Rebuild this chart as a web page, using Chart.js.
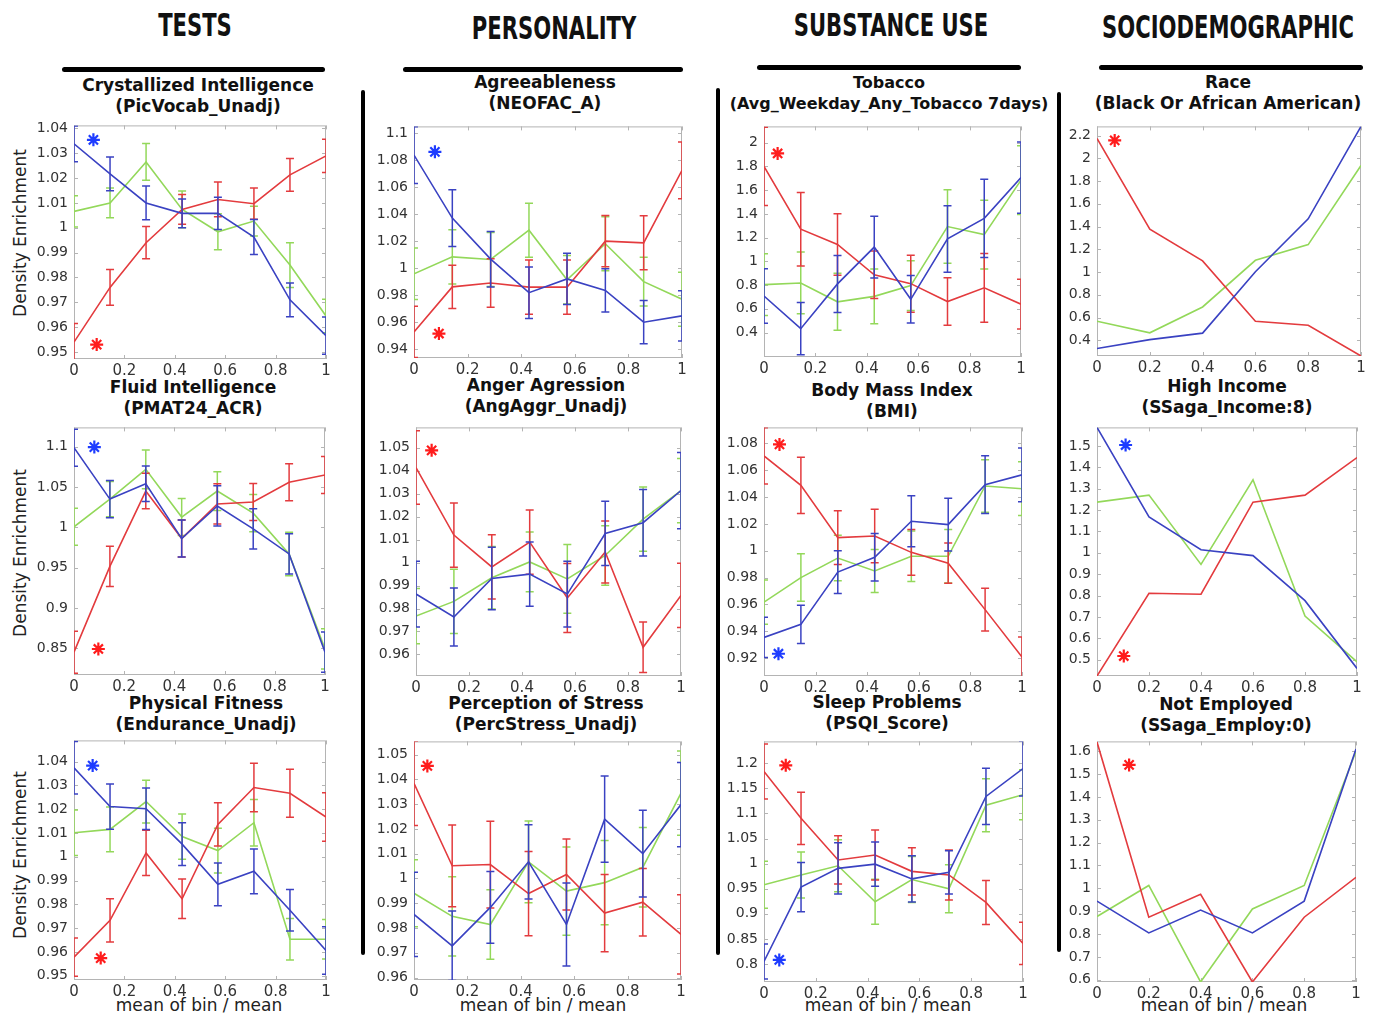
<!DOCTYPE html>
<html>
<head>
<meta charset="utf-8">
<script src="https://cdn.jsdelivr.net/npm/chart.js@4.4.1/dist/chart.umd.min.js"></script>
<style>
body { margin: 0; background: #fff; font-family: "DejaVu Sans", sans-serif; }
#page { position: relative; width: 1377px; height: 1015px; overflow: hidden; background: #fff; }
.hdr { position: absolute; font-weight: bold; font-size: 32px; color: #111; white-space: nowrap;
       transform: translate(-50%, -50%) scaleX(0.66); }
.bar { position: absolute; background: #000; border-radius: 3px; }
.ttl { position: absolute; font-weight: bold; font-size: 17px; line-height: 21px; color: #111;
       white-space: nowrap; text-align: center; transform: translate(-50%, -50%); }
.ylab { position: absolute; font-size: 17px; color: #222; white-space: nowrap;
        transform: translate(-50%, -50%) rotate(-90deg); }
.xlab { position: absolute; font-size: 17px; color: #222; white-space: nowrap;
        transform: translate(-50%, -50%); }
canvas { position: absolute; }
</style>
</head>
<body>
<div id="page"></div>
<script>
// x positions of the bins (8 bins for the first three columns, 6 for the last)
const binsEight = [0, 0.143, 0.286, 0.429, 0.571, 0.714, 0.857, 1];
const binsSix = [0, 0.2, 0.4, 0.6, 0.8, 1];
const xTicks = [0, 0.2, 0.4, 0.6, 0.8, 1];

// Crystallized Intelligence (PicVocab_Unadj)
const picVocabRed = [0.954, 0.976, 0.994, 1.0074, 1.0114, 1.0097, 1.0213, 1.0289];
const picVocabRedErr = [0.0075, 0.0072, 0.0065, 0.006, 0.007, 0.0063, 0.0066, 0.0067];
const picVocabGreen = [1.0066, 1.010, 1.0265, 1.0074, 0.9984, 1.0027, 0.985, 0.9645];
const picVocabGreenErr = [0.0063, 0.006, 0.0074, 0.0074, 0.0072, 0.006, 0.009, 0.0067];
const picVocabBlue = [1.0338, 1.0217, 1.010, 1.0058, 1.0058, 0.9963, 0.971, 0.9566];
const picVocabBlueErr = [0.0072, 0.0068, 0.0068, 0.0058, 0.0065, 0.007, 0.0068, 0.0075];
const picVocabTicks = [0.95, 0.96, 0.97, 0.98, 0.99, 1, 1.01, 1.02, 1.03, 1.04];
const picVocabStars = { red: [0.09, 0.953], blue: [0.077, 1.0354] };

// Agreeableness (NEOFAC_A)
const neofacRed = [0.9528, 0.9861, 0.989, 0.9859, 0.9859, 1.0199, 1.0187, 1.0723];
const neofacRedErr = [0.019, 0.016, 0.018, 0.02, 0.02, 0.019, 0.02, 0.021];
const neofacGreen = [0.9958, 1.0083, 1.0064, 1.028, 0.9914, 1.018, 0.990, 0.977];
const neofacGreenErr = [0.019, 0.02, 0.02, 0.02, 0.018, 0.02, 0.018, 0.02];
const neofacBlue = [1.0836, 1.037, 1.0066, 0.9818, 0.992, 0.9835, 0.960, 0.9647];
const neofacBlueErr = [0.021, 0.021, 0.0205, 0.019, 0.019, 0.016, 0.016, 0.0186];
const neofacTicks = [0.94, 0.96, 0.98, 1, 1.02, 1.04, 1.06, 1.08, 1.1];
const neofacStars = { red: [0.093, 0.9516], blue: [0.078, 1.086] };

// Tobacco (Avg_Weekday_Any_Tobacco 7days)
const tobaccoRed = [1.80, 1.271, 1.142, 0.887, 0.812, 0.661, 0.777, 0.639];
const tobaccoRedErr = [0.33, 0.31, 0.26, 0.2, 0.24, 0.2, 0.29, 0.21];
const tobaccoGreen = [0.804, 0.818, 0.659, 0.705, 0.796, 1.293, 1.225, 1.684];
const tobaccoGreenErr = [0.26, 0.26, 0.24, 0.23, 0.21, 0.31, 0.29, 0.29];
const tobaccoBlue = [0.708, 0.433, 0.81, 1.12, 0.68, 1.189, 1.362, 1.706];
const tobaccoBlueErr = [0.23, 0.22, 0.24, 0.26, 0.2, 0.28, 0.33, 0.30];
const tobaccoTicks = [0.4, 0.6, 0.8, 1, 1.2, 1.4, 1.6, 1.8, 2];
const tobaccoStars = { red: [0.053, 1.909] };

// Race (Black Or African American)
const raceRed = [2.174, 1.376, 1.098, 0.567, 0.532, 0.262];
const raceGreen = [0.567, 0.466, 0.693, 1.103, 1.241, 1.936];
const raceBlue = [0.328, 0.406, 0.463, 1.003, 1.468, 2.28];
const raceTicks = [0.4, 0.6, 0.8, 1, 1.2, 1.4, 1.6, 1.8, 2, 2.2];
const raceStars = { red: [0.067, 2.157] };

// Fluid Intelligence (PMAT24_ACR)
const pmatRed = [0.845, 0.9515, 1.045, 0.986, 1.029, 1.0314, 1.056, 1.065];
const pmatRedErr = [0.026, 0.025, 0.022, 0.023, 0.025, 0.023, 0.023, 0.023];
const pmatGreen = [1.0006, 1.035, 1.072, 1.0127, 1.045, 1.0176, 0.967, 0.849];
const pmatGreenErr = [0.023, 0.022, 0.024, 0.023, 0.024, 0.023, 0.027, 0.025];
const pmatBlue = [1.0988, 1.035, 1.054, 0.986, 1.0265, 0.998, 0.967, 0.845];
const pmatBlueErr = [0.023, 0.023, 0.022, 0.023, 0.025, 0.025, 0.025, 0.025];
const pmatTicks = [0.85, 0.9, 0.95, 1, 1.05, 1.1];
const pmatStars = { red: [0.097, 0.849], blue: [0.081, 1.0996] };

// Anger Agression (AngAggr_Unadj)
const angerRed = [1.0414, 1.012, 0.9981, 1.0089, 0.9846, 1.0046, 0.9631, 0.9857];
const angerRedErr = [0.016, 0.014, 0.014, 0.014, 0.015, 0.0135, 0.011, 0.014];
const angerGreen = [0.9767, 0.9831, 0.9934, 1.0003, 0.9929, 1.0031, 1.0189, 1.0314];
const angerGreenErr = [0.012, 0.014, 0.0136, 0.013, 0.015, 0.013, 0.014, 0.014];
const angerBlue = [0.9863, 0.9763, 0.9931, 0.995, 0.9863, 1.0127, 1.0174, 1.0314];
const angerBlueErr = [0.0143, 0.0126, 0.0136, 0.014, 0.0143, 0.014, 0.0145, 0.0166];
const angerTicks = [0.96, 0.97, 0.98, 0.99, 1, 1.01, 1.02, 1.03, 1.04, 1.05];
const angerStars = { red: [0.059, 1.0489] };

// Body Mass Index (BMI)
const bmiRed = [1.0707, 1.0488, 1.0098, 1.011, 0.9988, 0.9907, 0.9561, 0.9207];
const bmiRedErr = [0.021, 0.021, 0.02, 0.02, 0.017, 0.015, 0.016, 0.015];
const bmiGreen = [0.9617, 0.98, 0.9946, 0.9849, 0.9959, 0.9959, 1.0483, 1.0463];
const bmiGreenErr = [0.0165, 0.0177, 0.017, 0.016, 0.0188, 0.02, 0.0195, 0.02];
const bmiBlue = [0.9354, 0.9451, 0.9841, 0.9951, 1.022, 1.0195, 1.0493, 1.0566];
const bmiBlueErr = [0.015, 0.0143, 0.016, 0.0177, 0.019, 0.0197, 0.0215, 0.02];
const bmiTicks = [0.92, 0.94, 0.96, 0.98, 1, 1.02, 1.04, 1.06, 1.08];
const bmiStars = { red: [0.06, 1.0793], blue: [0.056, 0.9232] };

// High Income (SSaga_Income:8)
const incomeRed = [0.4234, 0.8109, 0.8063, 1.237, 1.270, 1.446];
const incomeGreen = [1.237, 1.270, 0.9456, 1.342, 0.7037, 0.4893];
const incomeBlue = [1.587, 1.168, 1.0145, 0.987, 0.776, 0.459];
const incomeTicks = [0.5, 0.6, 0.7, 0.8, 0.9, 1, 1.1, 1.2, 1.3, 1.4, 1.5];
const incomeStars = { red: [0.103, 0.517], blue: [0.11, 1.5046] };

// Physical Fitness (Endurance_Unadj)
const enduranceRed = [0.9578, 0.9733, 1.0016, 0.9823, 1.0136, 1.0291, 1.0267, 1.0167];
const enduranceRedErr = [0.008, 0.0091, 0.0095, 0.0083, 0.0091, 0.0102, 0.0101, 0.0102];
const enduranceGreen = [1.0101, 1.0115, 1.0232, 1.0085, 1.0026, 1.0143, 0.9653, 0.9653];
const enduranceGreenErr = [0.0096, 0.0094, 0.009, 0.0095, 0.0094, 0.0098, 0.0087, 0.0083];
const enduranceBlue = [1.0374, 1.0211, 1.0202, 1.0053, 0.9884, 0.9939, 0.9775, 0.9606];
const enduranceBlueErr = [0.011, 0.0095, 0.0087, 0.009, 0.009, 0.0094, 0.0087, 0.01];
const enduranceTicks = [0.95, 0.96, 0.97, 0.98, 0.99, 1, 1.01, 1.02, 1.03, 1.04];
const enduranceStars = { red: [0.106, 0.9574], blue: [0.074, 1.0383] };

// Perception of Stress (PercStress_Unadj)
const stressRed = [1.0384, 1.0051, 1.0056, 0.9939, 1.0016, 0.986, 0.9904, 0.9774];
const stressRedErr = [0.017, 0.0165, 0.0175, 0.017, 0.0143, 0.0156, 0.0136, 0.016];
const stressGreen = [0.994, 0.9847, 0.9814, 1.0067, 0.9949, 0.9983, 1.0045, 1.0344];
const stressGreenErr = [0.0135, 0.016, 0.014, 0.0165, 0.0178, 0.017, 0.016, 0.017];
const stressBlue = [0.9855, 0.9728, 0.9883, 1.0067, 0.9814, 1.0239, 1.010, 1.0298];
const stressBlueErr = [0.017, 0.014, 0.0145, 0.015, 0.0167, 0.0174, 0.0175, 0.017];
const stressTicks = [0.96, 0.97, 0.98, 0.99, 1, 1.01, 1.02, 1.03, 1.04, 1.05];
const stressStars = { red: [0.05, 1.0454] };

// Sleep Problems (PSQI_Score)
const psqiRed = [1.1837, 1.0903, 1.0074, 1.0172, 0.9846, 0.9774, 0.9226, 0.841];
const psqiRedErr = [0.055, 0.052, 0.048, 0.05, 0.047, 0.05, 0.044, 0.042];
const psqiGreen = [0.9578, 0.9774, 0.9957, 0.9239, 0.9683, 0.95, 1.1164, 1.1373];
const psqiGreenErr = [0.047, 0.046, 0.052, 0.045, 0.046, 0.048, 0.053, 0.05];
const psqiBlue = [0.805, 0.9533, 0.9905, 0.999, 0.9696, 0.9826, 1.134, 1.1896];
const psqiBlueErr = [0.035, 0.049, 0.051, 0.044, 0.046, 0.043, 0.056, 0.055];
const psqiTicks = [0.8, 0.85, 0.9, 0.95, 1, 1.05, 1.1, 1.15, 1.2];
const psqiStars = { red: [0.084, 1.196], blue: [0.059, 0.808] };

// Not Employed (SSaga_Employ:0)
const employRed = [1.640, 0.8736, 0.974, 0.59, 0.8736, 1.0484];
const employGreen = [0.8765, 1.0126, 0.59, 0.9095, 1.0126, 1.6];
const employBlue = [0.944, 0.805, 0.905, 0.805, 0.944, 1.61];
const employTicks = [0.6, 0.7, 0.8, 0.9, 1, 1.1, 1.2, 1.3, 1.4, 1.5, 1.6];
const employStars = { red: [0.124, 1.54] };

// Colours
const redLine = '#e33b3e';
const greenLine = '#93d85a';
const blueLine = '#3a42c2';
const redStar = '#ff1c1c';
const blueStar = '#1e3cff';

// Panel layout: plot box is [left, top, right, bottom] in page pixels
const panels = [
  { t: ['Crystallized Intelligence', '(PicVocab_Unadj)'], tx: 198, ty: 96, box: [74, 121, 326, 359], y: [0.9472, 1.0412],
    bins: binsEight, red: picVocabRed, redErr: picVocabRedErr, green: picVocabGreen, greenErr: picVocabGreenErr,
    blue: picVocabBlue, blueErr: picVocabBlueErr, ticks: picVocabTicks, stars: picVocabStars },
  { t: ['Agreeableness', '(NEOFAC_A)'], tx: 545, ty: 93, box: [414, 122, 682, 358], y: [0.9335, 1.1048],
    bins: binsEight, red: neofacRed, redErr: neofacRedErr, green: neofacGreen, greenErr: neofacGreenErr,
    blue: neofacBlue, blueErr: neofacBlueErr, ticks: neofacTicks, stars: neofacStars },
  { t: ['Tobacco', '(Avg_Weekday_Any_Tobacco 7days)'], tx: 889, ty: 93, fs: 16, box: [764, 122, 1021, 357], y: [0.194, 2.137],
    bins: binsEight, red: tobaccoRed, redErr: tobaccoRedErr, green: tobaccoGreen, greenErr: tobaccoGreenErr,
    blue: tobaccoBlue, blueErr: tobaccoBlueErr, ticks: tobaccoTicks, stars: tobaccoStars },
  { t: ['Race', '(Black Or African American)'], tx: 1228, ty: 93, box: [1097, 122, 1361, 356], y: [0.262, 2.28],
    bins: binsSix, red: raceRed, green: raceGreen, blue: raceBlue, ticks: raceTicks, stars: raceStars },

  { t: ['Fluid Intelligence', '(PMAT24_ACR)'], tx: 193, ty: 398, box: [74, 423, 325, 675], y: [0.8167, 1.124],
    bins: binsEight, red: pmatRed, redErr: pmatRedErr, green: pmatGreen, greenErr: pmatGreenErr,
    blue: pmatBlue, blueErr: pmatBlueErr, ticks: pmatTicks, stars: pmatStars },
  { t: ['Anger Agression', '(AngAggr_Unadj)'], tx: 546, ty: 396, box: [416, 423, 681, 676], y: [0.9506, 1.0589],
    bins: binsEight, red: angerRed, redErr: angerRedErr, green: angerGreen, greenErr: angerGreenErr,
    blue: angerBlue, blueErr: angerBlueErr, ticks: angerTicks, stars: angerStars },
  { t: ['Body Mass Index', '(BMI)'], tx: 892, ty: 401, box: [764, 423, 1022, 676], y: [0.9066, 1.092],
    bins: binsEight, red: bmiRed, redErr: bmiRedErr, green: bmiGreen, greenErr: bmiGreenErr,
    blue: bmiBlue, blueErr: bmiBlueErr, ticks: bmiTicks, stars: bmiStars },
  { t: ['High Income', '(SSaga_Income:8)'], tx: 1227, ty: 397, box: [1097, 423, 1357, 676], y: [0.4234, 1.587],
    bins: binsSix, red: incomeRed, green: incomeGreen, blue: incomeBlue, ticks: incomeTicks, stars: incomeStars },

  { t: ['Physical Fitness', '(Endurance_Unadj)'], tx: 206, ty: 714, box: [74, 736, 326, 980], y: [0.9482, 1.0489],
    bins: binsEight, red: enduranceRed, redErr: enduranceRedErr, green: enduranceGreen, greenErr: enduranceGreenErr,
    blue: enduranceBlue, blueErr: enduranceBlueErr, ticks: enduranceTicks, stars: enduranceStars },
  { t: ['Perception of Stress', '(PercStress_Unadj)'], tx: 546, ty: 714, box: [414, 737, 681, 980], y: [0.959, 1.0553],
    bins: binsEight, red: stressRed, redErr: stressRedErr, green: stressGreen, greenErr: stressGreenErr,
    blue: stressBlue, blueErr: stressBlueErr, ticks: stressTicks, stars: stressStars },
  { t: ['Sleep Problems', '(PSQI_Score)'], tx: 887, ty: 713, box: [764, 737, 1023, 982], y: [0.764, 1.2437],
    bins: binsEight, red: psqiRed, redErr: psqiRedErr, green: psqiGreen, greenErr: psqiGreenErr,
    blue: psqiBlue, blueErr: psqiBlueErr, ticks: psqiTicks, stars: psqiStars },
  { t: ['Not Employed', '(SSaga_Employ:0)'], tx: 1226, ty: 715, box: [1097, 737, 1356, 982], y: [0.59, 1.643],
    bins: binsSix, red: employRed, green: employGreen, blue: employBlue, ticks: employTicks, stars: employStars }
];

const headers = [
  { text: 'TESTS', x: 195, y: 25 },
  { text: 'PERSONALITY', x: 554, y: 28 },
  { text: 'SUBSTANCE USE', x: 891, y: 25 },
  { text: 'SOCIODEMOGRAPHIC', x: 1228, y: 27 }
];
const underlines = [[62, 67, 325], [403, 67, 683], [757, 65, 1021], [1099, 65, 1363]];
const dividers = [[363, 90, 955], [718, 88, 955], [1059, 92, 952]];
const yLabelRows = [233, 553, 855];
const xLabelCols = [199, 543, 888, 1224];

const page = document.getElementById('page');

function addDiv(cls, html, style) {
  const d = document.createElement('div');
  d.className = cls;
  d.innerHTML = html;
  Object.assign(d.style, style);
  page.appendChild(d);
  return d;
}

headers.forEach(h => addDiv('hdr', h.text, { left: h.x + 'px', top: h.y + 'px' }));
underlines.forEach(u => addDiv('bar', '', { left: u[0] + 'px', top: u[1] + 'px', width: (u[2] - u[0]) + 'px', height: '5px' }));
dividers.forEach(v => addDiv('bar', '', { left: (v[0] - 2) + 'px', top: v[1] + 'px', width: '4px', height: (v[2] - v[1]) + 'px' }));
yLabelRows.forEach(y => addDiv('ylab', 'Density Enrichment', { left: '20px', top: y + 'px' }));
xLabelCols.forEach(x => addDiv('xlab', 'mean of bin / mean', { left: x + 'px', top: '1005px' }));
panels.forEach(p => addDiv('ttl', p.t[0] + '<br>' + p.t[1],
  { left: p.tx + 'px', top: p.ty + 'px', fontSize: (p.fs || 17) + 'px' }));

// Draws vertical error bars with caps for datasets that carry an errs array
const errorBarPlugin = {
  id: 'errorBars',
  afterDatasetDraw(chart, args) {
    const ds = chart.data.datasets[args.index];
    if (!ds.errs) return;
    const ctx = chart.ctx, a = chart.chartArea;
    const xs = chart.scales.x, ys = chart.scales.y;
    ctx.save();
    ctx.beginPath();
    ctx.rect(a.left, a.top, a.width, a.height);
    ctx.clip();
    ctx.strokeStyle = ds.borderColor;
    ctx.lineWidth = 1.5;
    ds.data.forEach((pt, i) => {
      const px = xs.getPixelForValue(pt.x);
      const lo = ys.getPixelForValue(pt.y - ds.errs[i]);
      const hi = ys.getPixelForValue(pt.y + ds.errs[i]);
      ctx.beginPath();
      ctx.moveTo(px, lo); ctx.lineTo(px, hi);
      ctx.moveTo(px - 4, lo); ctx.lineTo(px + 4, lo);
      ctx.moveTo(px - 4, hi); ctx.lineTo(px + 4, hi);
      ctx.stroke();
    });
    ctx.restore();
  }
};

// Grey box round the plot with small inward ticks on all four sides
const framePlugin = {
  id: 'frame',
  beforeDatasetsDraw(chart) {
    const ctx = chart.ctx, a = chart.chartArea;
    const xs = chart.scales.x, ys = chart.scales.y;
    ctx.save();
    ctx.strokeStyle = '#b4b4b4';
    ctx.lineWidth = 1;
    ctx.strokeRect(a.left + 0.5, a.top + 0.5, a.width - 1, a.height - 1);
    ctx.beginPath();
    ys.ticks.forEach(t => {
      const py = Math.round(ys.getPixelForValue(t.value)) + 0.5;
      ctx.moveTo(a.left, py); ctx.lineTo(a.left + 4, py);
      ctx.moveTo(a.right, py); ctx.lineTo(a.right - 4, py);
    });
    xs.ticks.forEach(t => {
      const px = Math.round(xs.getPixelForValue(t.value)) + 0.5;
      ctx.moveTo(px, a.bottom); ctx.lineTo(px, a.bottom - 4);
      ctx.moveTo(px, a.top); ctx.lineTo(px, a.top + 4);
    });
    ctx.stroke();
    ctx.restore();
  }
};

function fmt(v) {
  return String(Number(v.toFixed(3)));
}

function points(bins, vals) {
  return bins.map((x, i) => ({ x: x, y: vals[i] }));
}

const YW = 46, PT = 10, PR = 12, XH = 24;

panels.forEach(p => {
  const cv = document.createElement('canvas');
  const w = p.box[2] - p.box[0] + YW + PR;
  const h = p.box[3] - p.box[1] + PT + XH;
  cv.width = w;
  cv.height = h;
  cv.style.left = (p.box[0] - YW) + 'px';
  cv.style.top = (p.box[1] - PT) + 'px';
  cv.style.width = w + 'px';
  cv.style.height = h + 'px';
  page.appendChild(cv);

  const lineSet = (vals, errs, color, order) => ({
    type: 'line', data: points(p.bins, vals), errs: errs, borderColor: color,
    borderWidth: 1.6, pointRadius: 0, tension: 0, fill: false, order: order
  });
  const datasets = [
    lineSet(p.blue, p.blueErr, blueLine, 1),
    lineSet(p.red, p.redErr, redLine, 2),
    lineSet(p.green, p.greenErr, greenLine, 3)
  ];
  if (p.stars.red) {
    datasets.push({ type: 'scatter', data: [{ x: p.stars.red[0], y: p.stars.red[1] }], pointStyle: 'star',
      pointRadius: 6.5, borderColor: redStar, backgroundColor: redStar, pointBorderWidth: 2.2, order: 0 });
  }
  if (p.stars.blue) {
    datasets.push({ type: 'scatter', data: [{ x: p.stars.blue[0], y: p.stars.blue[1] }], pointStyle: 'star',
      pointRadius: 6.5, borderColor: blueStar, backgroundColor: blueStar, pointBorderWidth: 2.2, order: 0 });
  }

  new Chart(cv, {
    type: 'line',
    data: { datasets: datasets },
    plugins: [framePlugin, errorBarPlugin],
    options: {
      responsive: false,
      animation: false,
      devicePixelRatio: 1,
      layout: { padding: { top: PT, right: PR, left: 0, bottom: 0 } },
      plugins: { legend: { display: false }, tooltip: { enabled: false } },
      scales: {
        x: {
          type: 'linear', min: 0, max: 1,
          grid: { display: false, drawTicks: false },
          border: { display: false },
          afterBuildTicks: s => { s.ticks = xTicks.map(v => ({ value: v })); },
          afterFit: s => { s.height = XH; },
          ticks: { autoSkip: false, maxRotation: 0, padding: 3, color: '#333',
                   font: { family: 'DejaVu Sans', size: 15 }, callback: v => fmt(v) }
        },
        y: {
          type: 'linear', min: p.y[0], max: p.y[1],
          grid: { display: false, drawTicks: false },
          border: { display: false },
          afterBuildTicks: s => { s.ticks = p.ticks.map(v => ({ value: v })); },
          afterFit: s => { s.width = YW; },
          ticks: { autoSkip: false, padding: 6, color: '#333',
                   font: { family: 'DejaVu Sans', size: 14 }, callback: v => fmt(v) }
        }
      }
    }
  });
});
</script>
</body>
</html>
